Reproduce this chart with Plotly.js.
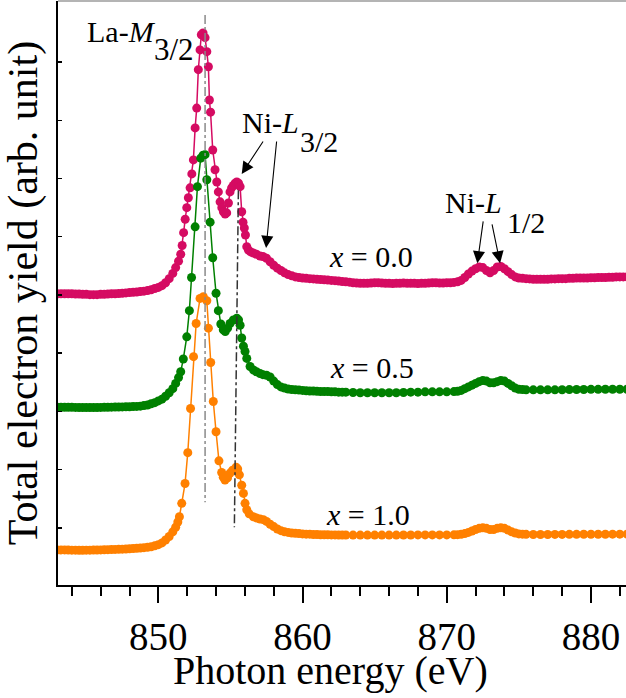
<!DOCTYPE html>
<html>
<head>
<meta charset="utf-8">
<script src="https://cdn.plot.ly/plotly-3.0.1.min.js"></script>
<style>html,body{margin:0;padding:0;background:#fff;}#chart{width:626px;height:698px;}</style>
</head>
<body>
<div id="chart"></div>
<script>
// ---- data (photon energy in eV, total electron yield in arb. units, curves offset) ----
const seriesNames = ["x = 0.0", "x = 0.5", "x = 1.0"];
const seriesColors = ["#d50b62", "#008000", "#ff8000"];

// shared pre-edge energies
const eLeft = [843.00,843.25,843.50,843.75,844.00,844.25,844.50,844.75,845.00,845.25,845.50,845.75,846.00,846.25,846.50,846.75,847.00,847.25,847.50,847.75,848.00,848.25,848.50,848.75,849.00,849.25,849.50,849.75,850.00,850.25,850.50,850.75,851.00];
// post-edge energies for x = 0.5 and x = 1.0
const eMid = [857.75,858.00,858.25,858.50,858.75,859.00,859.25,859.50,859.75,860.00,860.25,860.50,860.75,861.00,861.25,861.50,861.75,862.00,862.25,862.50,862.75];
const eFlat = [863.0,863.5,864.0,864.5,865.0,865.5,866.0,866.5,867.0,867.5,868.0,868.5,869.0,869.5,870.0,870.5];
const eNiL2 = [870.75,871.00,871.25,871.50,871.75,872.00,872.25,872.50,872.75,873.00,873.25,873.50,873.75,874.00,874.25,874.50,874.75,875.00,875.25,875.50];
const eTail = [876.0,876.5,877.0,877.5,878.0,878.5,879.0,879.5,880.0,880.5,881.0,881.5,882.0,882.5];

// x = 0.0
const ePeak00 = [851.20,851.40,851.55,851.65,851.75,851.86,851.97,852.08,852.20,852.32,852.43,852.55,852.66,852.77,852.89,852.98,853.10,853.24,853.36,853.47,853.54,853.62,853.77,853.93,854.05,854.16,854.28,854.40,854.51,854.63,854.74,854.86,854.97,855.08,855.20,855.32,855.44,855.56,855.67,855.78,855.87,855.96,856.04,856.13,856.25,856.40,856.59,856.80,857.05,857.25,857.50];
const eRight00 = [857.75,858.00,858.25,858.50,858.75,859.00,859.25,859.50,859.75,860.00,860.25,860.50,860.75,861.00,861.25,861.50,861.75,862.00,862.25,862.50,862.75,863.00,863.25,863.50,863.75,864.00,864.25,864.50,864.75,865.00,865.25,865.50,865.75,866.00,866.25,866.50,866.75,867.00,867.25,867.50,867.75,868.00,868.25,868.50,868.75,869.00,869.25,869.50,869.75,870.00,870.25,870.50,870.75,871.00,871.25,871.50,871.75,872.00,872.25,872.50,872.75,873.00,873.25,873.50,873.75,874.00,874.25,874.50,874.75,875.00,875.25,875.50,875.75,876.00,876.25,876.50,876.75,877.00,877.25,877.50,877.75,878.00,878.25,878.50,878.75,879.00,879.25,879.50,879.75,880.00,880.25,880.50,880.75,881.00,881.25,881.50,881.75,882.00,882.25,882.50];
const yLeft00 = [5.02,5.02,5.02,5.02,5.02,5.015,5.015,5.01,5.01,5.005,5.005,5.005,5.01,5.01,5.015,5.02,5.02,5.025,5.03,5.035,5.04,5.045,5.05,5.06,5.065,5.075,5.09,5.11,5.13,5.16,5.21,5.28,5.37];
const yPeak00 = [5.47,5.58,5.70,5.85,6.07,6.30,6.50,6.67,6.84,7.08,7.32,7.87,8.21,8.87,9.21,9.47,9.50,9.42,9.18,8.92,8.35,8.14,7.49,7.15,6.94,6.77,6.60,6.50,6.43,6.39,6.41,6.58,6.77,6.84,6.88,6.92,6.94,6.92,6.86,6.43,6.25,6.15,6.03,5.83,5.77,5.74,5.72,5.70,5.67,5.66,5.63];
const yRight00 = [5.57,5.51,5.46,5.42,5.38,5.35,5.33,5.31,5.30,5.29,5.285,5.28,5.275,5.27,5.265,5.26,5.255,5.25,5.245,5.24,5.23,5.225,5.22,5.21,5.205,5.20,5.20,5.20,5.205,5.21,5.21,5.205,5.20,5.20,5.195,5.20,5.20,5.205,5.20,5.20,5.20,5.195,5.20,5.20,5.205,5.21,5.21,5.205,5.205,5.21,5.21,5.215,5.225,5.25,5.30,5.36,5.41,5.45,5.48,5.47,5.42,5.38,5.42,5.48,5.49,5.45,5.40,5.35,5.31,5.29,5.285,5.28,5.275,5.27,5.27,5.27,5.27,5.27,5.275,5.275,5.28,5.28,5.28,5.285,5.285,5.29,5.29,5.29,5.29,5.295,5.295,5.30,5.30,5.30,5.305,5.305,5.31,5.31,5.31,5.31];

// x = 0.5
const ePeak05 = [851.20,851.40,851.55,851.73,851.97,852.15,852.30,852.55,852.71,852.94,853.10,853.24,853.36,853.59,853.77,854.00,854.16,854.33,854.50,854.64,854.80,854.97,855.20,855.44,855.56,855.67,855.78,855.90,856.01,856.13,856.36,856.60,856.80,857.05,857.25,857.50];
const yLeft05 = [3.07,3.07,3.07,3.07,3.07,3.068,3.066,3.066,3.065,3.065,3.066,3.067,3.068,3.07,3.07,3.072,3.074,3.075,3.076,3.078,3.08,3.082,3.085,3.09,3.10,3.11,3.13,3.15,3.18,3.21,3.26,3.32,3.39];
const yPeak05 = [3.48,3.58,3.68,3.90,4.28,4.73,5.30,6.17,6.86,7.35,7.40,7.41,6.98,6.25,5.64,5.03,4.73,4.50,4.40,4.37,4.43,4.51,4.57,4.60,4.57,4.48,4.26,4.12,4.03,3.91,3.77,3.71,3.68,3.65,3.63,3.62];
const yMid05 = [3.59,3.52,3.46,3.42,3.40,3.385,3.375,3.37,3.365,3.36,3.355,3.35,3.35,3.345,3.34,3.34,3.34,3.335,3.335,3.33,3.33];
const yFlat05 = [3.33,3.325,3.32,3.32,3.32,3.32,3.32,3.32,3.325,3.33,3.33,3.335,3.335,3.335,3.335,3.34];
const yNiL05 = [3.345,3.36,3.39,3.42,3.45,3.48,3.51,3.53,3.52,3.49,3.49,3.51,3.53,3.52,3.48,3.44,3.40,3.38,3.375,3.37];
const yTail05 = [3.37,3.37,3.37,3.37,3.372,3.374,3.375,3.376,3.378,3.378,3.38,3.38,3.38,3.38];

// x = 1.0
const ePeak10 = [851.20,851.35,851.46,851.62,851.85,852.04,852.23,852.44,852.62,852.89,853.12,853.36,853.47,853.63,853.81,854.00,854.20,854.39,854.50,854.62,854.80,854.97,855.15,855.39,855.50,855.62,855.78,855.90,856.01,856.13,856.30,856.59,856.80,857.05,857.28,857.50];
const yLeft10 = [0.62,0.62,0.62,0.618,0.616,0.615,0.614,0.614,0.615,0.616,0.617,0.618,0.62,0.622,0.624,0.626,0.628,0.63,0.633,0.636,0.64,0.644,0.648,0.652,0.658,0.665,0.675,0.69,0.71,0.74,0.79,0.85,0.93];
const yPeak10 = [1.01,1.10,1.19,1.42,1.76,2.29,3.05,3.94,4.51,4.94,4.97,4.90,4.43,3.84,3.17,2.65,2.15,1.95,1.87,1.82,1.86,1.94,1.99,2.04,2.01,1.91,1.73,1.59,1.42,1.31,1.24,1.19,1.17,1.15,1.14,1.11];
const yMid10 = [1.06,1.02,0.98,0.95,0.93,0.92,0.91,0.905,0.90,0.895,0.89,0.89,0.885,0.885,0.88,0.88,0.88,0.878,0.878,0.876,0.876];
const yFlat10 = [0.876,0.875,0.875,0.874,0.874,0.874,0.875,0.875,0.876,0.876,0.877,0.877,0.878,0.878,0.878,0.879];
const yNiL10 = [0.882,0.888,0.90,0.92,0.945,0.97,0.99,1.00,0.99,0.97,0.97,0.99,1.00,0.99,0.96,0.93,0.91,0.895,0.89,0.887];
const yTail10 = [0.885,0.885,0.885,0.886,0.886,0.887,0.887,0.888,0.888,0.889,0.889,0.89,0.89,0.89];

// axis ticks (y axis ticks without labels, arbitrary units)
const yTickVals = [1,2,3,4,5,6,7,8,9];

// ---- build traces ----
const xs = [
  eLeft.concat(ePeak00, eRight00),
  eLeft.concat(ePeak05, eMid, eFlat, eNiL2, eTail),
  eLeft.concat(ePeak10, eMid, eFlat, eNiL2, eTail)
];
const ys = [
  yLeft00.concat(yPeak00, yRight00),
  yLeft05.concat(yPeak05, yMid05, yFlat05, yNiL05, yTail05),
  yLeft10.concat(yPeak10, yMid10, yFlat10, yNiL10, yTail10)
];
const traces = xs.map((x, i) => ({
  type: 'scatter', mode: 'lines+markers', name: seriesNames[i],
  x: x, y: ys[i],
  line: {color: seriesColors[i], width: 1.5},
  marker: {color: seriesColors[i], size: 9},
  hoverinfo: 'x+y+name'
}));

const FONT = '"Liberation Serif", "Times New Roman", serif';
const ann = (x, y, text, size) => ({x, y, xref:'x', yref:'y', text, showarrow:false, xanchor:'left', yanchor:'middle', font:{family:FONT, size:size, color:'#000'}});
const arrow = (x, y, ax, ay) => ({x, y, ax, ay, xref:'x', yref:'y', axref:'x', ayref:'y', text:'', showarrow:true, arrowhead:2, arrowsize:2.2, arrowwidth:1.1, arrowcolor:'#000', standoff:0, startstandoff:0});

const layout = {
  width: 626, height: 698,
  margin: {l:58, r:0, t:1, b:113, pad:0},
  paper_bgcolor:'#fff', plot_bgcolor:'#fff',
  showlegend:false,
  font:{family:FONT, color:'#000'},
  xaxis: {
    range:[843.04, 882.43], showline:true, linecolor:'#000', linewidth:2,
    ticks:'outside', ticklen:16, tickwidth:2, tickcolor:'#000', tick0:850, dtick:10,
    minor:{ticks:'outside', ticklen:9, tickwidth:2, tickcolor:'#000', tick0:850, dtick:2},
    showgrid:false, zeroline:false,
    tickfont:{family:FONT, size:39, color:'#000'}
  },
  yaxis: {
    range:[0.017, 10.05], showline:true, linecolor:'#000', linewidth:2,
    ticks:'inside', ticklen:4, tickwidth:1.5, tickcolor:'#000',
    tickvals:yTickVals, showticklabels:false, showgrid:false, zeroline:false,
    title:{text:'Total electron yield (arb. unit)', font:{family:FONT, size:42, color:'#000'}, standoff:6}
  },
  shapes: [
    {type:'line', xref:'paper', yref:'paper', x0:0, x1:1, y0:1, y1:1, line:{color:'#b4b4b4', width:2}},
    {type:'line', xref:'x', yref:'y', x0:853.24, x1:853.24, y0:9.81, y1:1.44, line:{color:'#8a8a8a', width:1.5, dash:'dashdot'}},
    {type:'line', xref:'x', yref:'y', x0:855.55, x1:855.27, y0:6.80, y1:1.01, line:{color:'#333', width:1.5, dash:'dashdot'}}
  ],
  annotations: [
    {text:'Photon energy (eV)', xref:'paper', yref:'paper', x:0.479, y:-0.147, xanchor:'center', yanchor:'middle', showarrow:false, font:{family:FONT, size:40, color:'#000'}},
    ann(844.92, 9.52, 'La-<i>M</i>', 30),
    ann(849.56, 9.21, '3/2', 31),
    ann(855.68, 7.955, 'Ni-<i>L</i>', 30),
    ann(859.69, 7.63, '3/2', 30),
    ann(869.72, 6.58, 'Ni-<i>L</i>', 30),
    ann(874.04, 6.24, '1/2', 30),
    ann(861.68, 5.66, '<i>x</i> = 0.0', 30),
    ann(861.77, 3.746, '<i>x</i> = 0.5', 30),
    ann(861.49, 1.22, '<i>x</i> = 1.0', 30),
    arrow(855.78, 7.079, 857.33, 7.663),
    arrow(857.47, 5.808, 858.21, 7.663),
    arrow(872.12, 5.545, 872.54, 6.289),
    arrow(873.70, 5.545, 873.12, 6.237)
  ]
};

Plotly.newPlot('chart', traces, layout, {displayModeBar:false, staticPlot:true});
</script>
</body>
</html>
